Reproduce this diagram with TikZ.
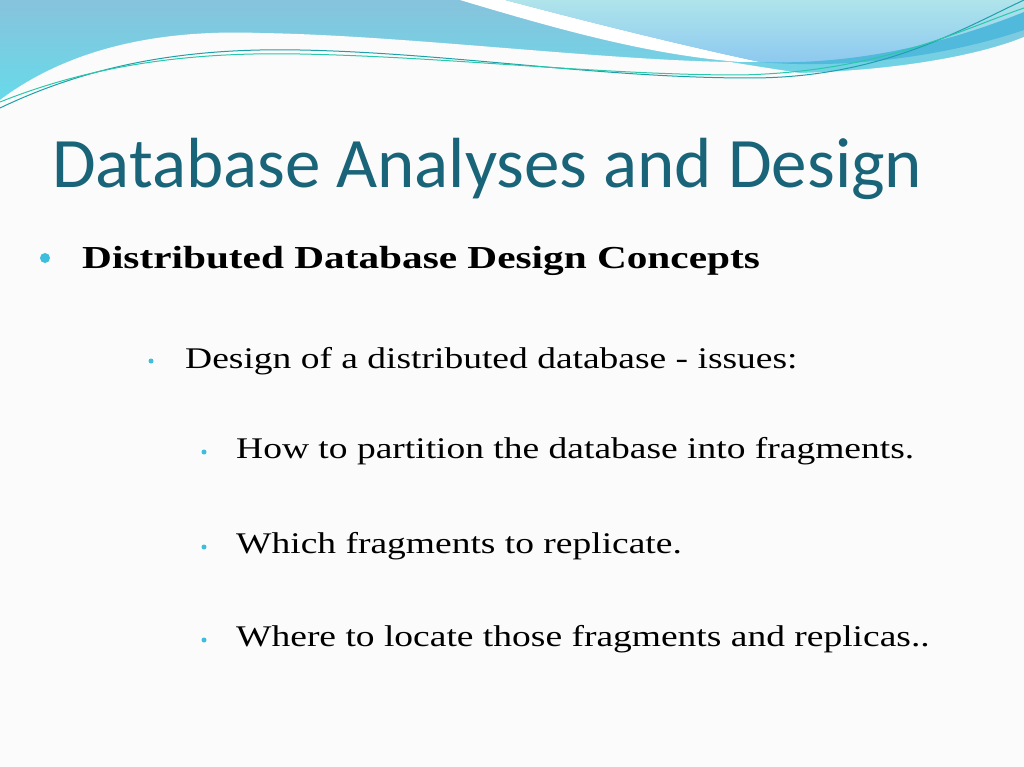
\documentclass[tikz,border=0pt]{standalone}
\usepackage{fontspec}
\setmainfont{Liberation Serif}
\newfontfamily\bodyfont[FakeStretch=1.25]{Liberation Serif}
\newfontfamily\headfont[FakeStretch=1.29]{Liberation Serif Bold}
\newfontfamily\titlefont{Carlito}
\definecolor{bandtop}{RGB}{135,195,220}
\definecolor{bandbot}{RGB}{100,220,235}
\definecolor{ltop}{RGB}{175,228,235}
\definecolor{lbot}{RGB}{140,200,240}
\definecolor{deep}{RGB}{80,185,220}
\definecolor{lineA}{RGB}{30,160,170}
\definecolor{lineB}{RGB}{40,200,170}
\definecolor{titlec}{RGB}{25,100,120}
\definecolor{bgc}{RGB}{251,251,251}
\definecolor{dotc}{RGB}{60,190,220}
\begin{document}
\begin{tikzpicture}[x=1pt,y=-1pt,
  lvltext/.style={anchor=base west,inner sep=0pt,font=\bodyfont\fontsize{30}{34}\selectfont},
  dotb/.style={circle,fill=dotc,inner sep=0pt,minimum size=5pt}]
\useasboundingbox (0,0) rectangle (1024,767);
\fill[bgc] (0,0) rectangle (1024,767);
\shade[top color=bandtop,bottom color=bandbot]
 (0,0) rectangle (1024,110);
\fill[bgc] (0,100) .. controls (80,40) and (180,30) .. (260,33) .. controls (400,35) and (600,60) .. (730,62)
 .. controls (780,70) and (800,73) .. (800,73) .. controls (900,70) and (980,55) .. (1024,37) -- (1024,120) -- (0,120) -- cycle;
\fill[white] (460,0) -- (505,0) .. controls (580,20) and (680,45) .. (760,62) -- (740,62) .. controls (650,55) and (560,30) .. (460,0) -- cycle;
\shade[top color=ltop,bottom color=lbot]
 (505,0) -- (1024,0) -- (1024,20) .. controls (930,50) and (840,65) .. (760,62)
 .. controls (680,45) and (580,20) .. (505,0) -- cycle;
\fill[deep] (1024,12) .. controls (930,50) and (840,65) .. (760,62)
 .. controls (850,70) and (950,55) .. (1024,30) -- cycle;
\draw[lineA,line width=1pt] (0,108) .. controls (100,60) and (200,48) .. (300,50)
 .. controls (450,53) and (600,78) .. (750,78) .. controls (880,78) and (960,30) .. (1024,0);
\draw[lineB,line width=1pt] (0,102) .. controls (100,62) and (200,52) .. (300,54)
 .. controls (450,57) and (600,75) .. (740,75) .. controls (880,72) and (960,30) .. (1024,8);
\node[anchor=base west,inner sep=0pt,text=titlec,font=\titlefont\fontsize{71}{75}\selectfont] (title) at (52,188) {Database Analyses and Design};
\node[dotb,minimum size=10pt] (b1) at (45,258) {};
\node[anchor=base west,inner sep=0pt,font=\headfont\fontsize{32}{36}\selectfont] (t1) at (82,268) {Distributed Database Design Concepts};
\node[dotb] (b2) at (151,361) {};
\node[lvltext] (t2) at (185,368) {Design of a distributed database - issues:};
\node[dotb] (b3) at (204,452) {};
\node[lvltext] (t3) at (236,458) {How to partition the database into fragments.};
\node[dotb] (b4) at (204,547) {};
\node[lvltext] (t4) at (236,553) {Which fragments to replicate.};
\node[dotb] (b5) at (204,640) {};
\node[lvltext] (t5) at (236,646) {Where to locate those fragments and replicas..};
\end{tikzpicture}
\end{document}
